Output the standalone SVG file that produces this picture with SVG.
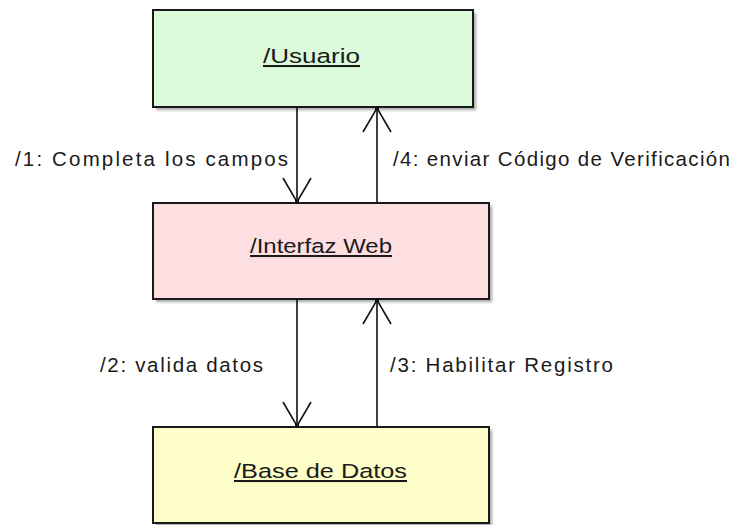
<svg xmlns="http://www.w3.org/2000/svg" width="746" height="525" viewBox="0 0 746 525">
<style>
.box{stroke:#1a1a1a;stroke-width:2}
.shadow{fill:#000;opacity:.35;filter:url(#blur)}
.lbl{font-family:"Liberation Sans",Arial,sans-serif;font-size:20.5px;fill:#1a1a1a}
.name{text-decoration:underline;text-anchor:start}
.conn{stroke:#111;stroke-width:1.6;fill:none}
</style>
<defs>
<filter id="blur" x="-10%" y="-10%" width="120%" height="120%"><feGaussianBlur stdDeviation="1.5"/></filter>
<marker id="open" markerUnits="userSpaceOnUse" markerWidth="40" markerHeight="40" viewBox="-30 -20 40 40" refX="0" refY="0" orient="auto" overflow="visible">
<path d="M-24,-14 L0,0 L-24,14" fill="none" stroke="#111" stroke-width="1.6"/>
<rect x="-2" y="-2" width="4" height="4" fill="#111"/>
</marker>
</defs>
<g id="usuario">
<rect class="shadow" x="156" y="13" width="320" height="97"/>
<rect class="box" x="153" y="10" width="320" height="97" fill="#dbfbdb"/>
<text class="lbl name" x="263" y="63" textLength="97" lengthAdjust="spacingAndGlyphs">/Usuario</text>
</g>
<g id="interfaz">
<rect class="shadow" x="156" y="206" width="336" height="96"/>
<rect class="box" x="153" y="203" width="336" height="96" fill="#fddfe1"/>
<text class="lbl name" x="250" y="253" textLength="142" lengthAdjust="spacingAndGlyphs">/Interfaz Web</text>
</g>
<g id="basedatos">
<rect class="shadow" x="156" y="430" width="336" height="96"/>
<rect class="box" x="153" y="427" width="336" height="96" fill="#fefec9"/>
<text class="lbl name" x="234" y="478" textLength="173" lengthAdjust="spacingAndGlyphs">/Base de Datos</text>
</g>
<g id="connectors">
<line class="conn" x1="297" y1="107" x2="297" y2="202" marker-end="url(#open)"/>
<line class="conn" x1="377" y1="203" x2="377" y2="108" marker-end="url(#open)"/>
<line class="conn" x1="297" y1="299" x2="297" y2="426" marker-end="url(#open)"/>
<line class="conn" x1="377" y1="427" x2="377" y2="300" marker-end="url(#open)"/>
<text class="lbl" x="15" y="166" textLength="273" lengthAdjust="spacing">/1: Completa los campos</text>
<text class="lbl" x="393" y="166" textLength="337" lengthAdjust="spacing">/4: enviar Código de Verificación</text>
<text class="lbl" x="100" y="372" textLength="163" lengthAdjust="spacing">/2: valida datos</text>
<text class="lbl" x="390" y="372" textLength="223" lengthAdjust="spacing">/3: Habilitar Registro</text>
</g>
</svg>
